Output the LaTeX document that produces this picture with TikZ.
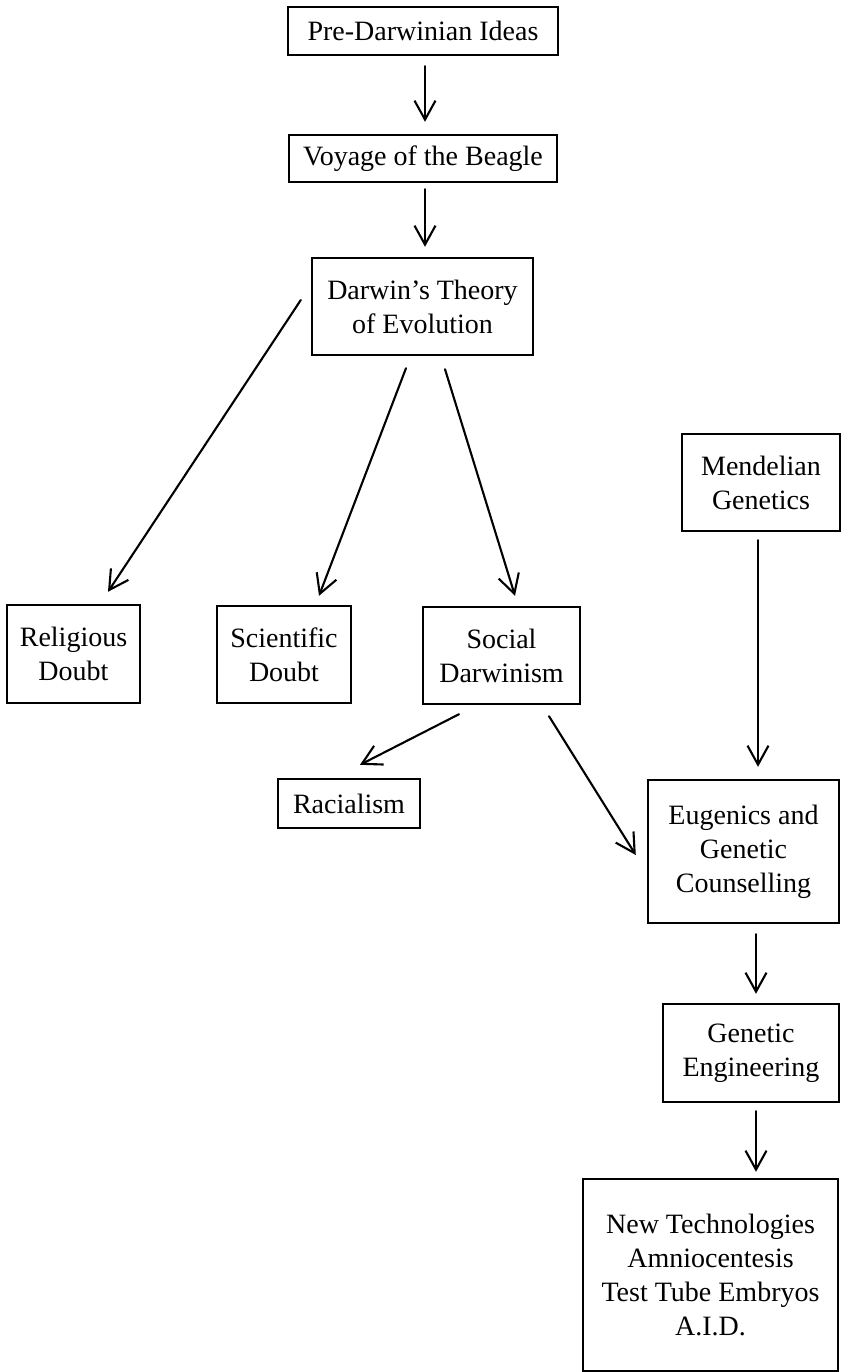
\documentclass[tikz,border=0pt]{standalone}
\usepackage{fontspec}
\setmainfont{Liberation Serif}
\usetikzlibrary{arrows.meta,calc}
\begin{document}
\begin{tikzpicture}[x=1pt,y=-1pt,
  box/.style={draw=black,line width=2.4pt,fill=white,inner sep=0pt,
    align=center,font=\fontsize{28}{34}\selectfont},
  arr/.style={draw=black,line width=2.1pt,line cap=round,line join=round,
    -{Straight Barb[length=19pt,width=21pt,line width=2.1pt]}}]
\useasboundingbox (0,0) rectangle (844,1372);
\fill[white] (0,0) rectangle (844,1372);

% main chain
\node[box,minimum width=270pt,minimum height=48pt] (pre) at (423,31) {Pre-Darwinian Ideas};
\node[box,minimum width=268pt,minimum height=47pt] (voyage) at (423,158.5) {Voyage of the Beagle};
\node[box,minimum width=221pt,minimum height=97pt] (darwin) at (422.5,306.5) {Darwin’s Theory\\of Evolution};

% consequences
\node[box,minimum width=133pt,minimum height=98pt] (religious) at (73.5,654) {Religious\\Doubt};
\node[box,minimum width=134pt,minimum height=97pt] (scientific) at (284,654.5) {Scientific\\Doubt};
\node[box,minimum width=157pt,minimum height=97pt] (social) at (501.5,655.5) {Social\\Darwinism};
\node[box,minimum width=158pt,minimum height=97pt] (mendel) at (761,482.5) {Mendelian\\Genetics};
\node[box,minimum width=142pt,minimum height=49pt] (racialism) at (349,803.5) {Racialism};
\node[box,minimum width=191pt,minimum height=143pt] (eugenics) at (743.5,851.5) {Eugenics and\\Genetic\\Counselling};
\node[box,minimum width=176pt,minimum height=98pt] (geneng) at (751,1053) {Genetic\\Engineering};
\node[box,minimum width=255pt,minimum height=192pt] (newtech) at (710.5,1275) {New Technologies\\Amniocentesis\\Test Tube Embryos\\A.I.D.};

% connectors
\draw[arr] ($(pre.south)+(2,10)$) -- ($(voyage.north)+(2,-12)$);
\draw[arr] ($(voyage.south)+(2,6)$) -- ($(darwin.north)+(2.5,-10)$);
\draw[arr] ($(darwin.west)+(-10,-6.5)$) -- ($(religious.north)+(34.5,-12)$);
\draw[arr] ($(darwin.south)+(-16.5,12)$) -- ($(scientific.north)+(35,-9)$);
\draw[arr] ($(darwin.south)+(22.5,13)$) -- ($(social.north)+(13.5,-10)$);
\draw[arr] ($(social.south)+(-42.5,9)$) -- ($(racialism.north)+(11,-13)$);
\draw[arr] ($(social.south)+(47.5,11)$) -- ($(eugenics.west)+(-11,3.5)$);
\draw[arr] ($(mendel.south)+(-3,8)$) -- ($(eugenics.north)+(14.5,-12)$);
\draw[arr] ($(eugenics.south)+(12.5,10)$) -- ($(geneng.north)+(5,-9)$);
\draw[arr] ($(geneng.south)+(5,8)$) -- ($(newtech.north)+(45.5,-6)$);
\end{tikzpicture}
\end{document}
